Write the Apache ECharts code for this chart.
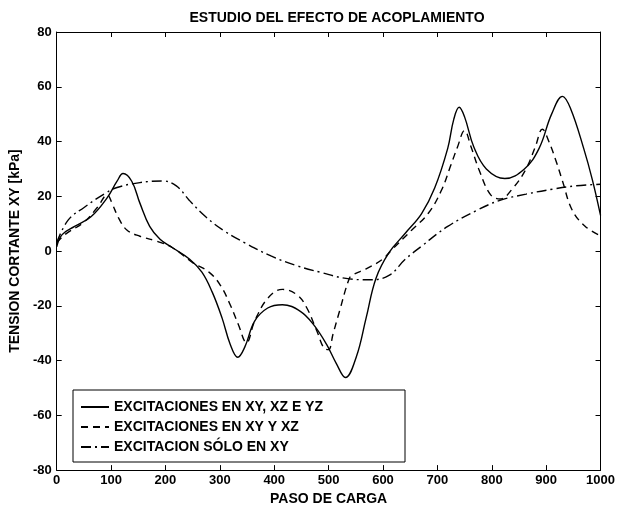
<!DOCTYPE html>
<html>
<head>
<meta charset="utf-8">
<script src="https://cdn.jsdelivr.net/npm/echarts@6/dist/echarts.min.js"></script>
<style>html,body{margin:0;padding:0;background:#fff}#c{width:618px;height:511px}</style>
</head>
<body>
<div id="c"></div>
<script>
var titleText = 'ESTUDIO DEL EFECTO DE ACOPLAMIENTO';
var xName = 'PASO DE CARGA';
var yName = 'TENSION CORTANTE XY [kPa]';
var seriesNames = ['EXCITACIONES EN XY, XZ E YZ', 'EXCITACIONES EN XY Y XZ', 'EXCITACION SÓLO EN XY'];

var xSolid = [0,10,33,63,93,111,122,138,153,171,190,213,244,267,286,304,319,333,346,364,388,415,448,472,496,514,531,551,569,587,611,641,671,695,719,730,740,750,767,790,824,860,887,910,930,945,969,985,1000];
var ySolid = [1.5,6,9,12.5,19.5,25.5,28.3,25.5,17.5,9,4.3,1.2,-2.9,-7.7,-15,-24.4,-34,-38.8,-35,-25.6,-20.8,-19.6,-22,-26.8,-34,-41,-46.2,-38.6,-24.4,-10,-0.6,6.5,13.7,23,37.5,48,52.5,49,38,30,26.5,30,37.5,50,56.5,52,37.5,26,13];

var xDash = [0,15,51,75,93,102,114,129,153,184,213,250,280,301,319,334,349,364,388,415,442,460,478,493,500,508,520,538,545,569,599,617,653,683,707,725,737,750,762,776,797,815,839,863,880,893,905,918,930,948,972,1000];
var yDash = [3,6,10.7,16,20.5,17.3,12,7.7,5.4,3.6,1.2,-4.2,-7.7,-12.5,-19.6,-26.8,-33.5,-25.6,-17.3,-14,-16,-20.8,-29,-35.7,-36,-30.4,-22,-10,-8.6,-6.5,-3,0.6,7.7,13.7,22,31.5,38,44,38,30,20.8,19,23,30,38,44.5,40,33,25.6,14.9,9,5.5];

var xDashDot = [0,21,51,87,111,153,195,220,244,274,310,346,394,442,484,532,575,611,641,671,719,773,815,863,912,954,1000];
var yDashDot = [3,11.3,16,20.8,23.2,25,25.6,23.8,18.5,12.5,7.1,3,-1.8,-5.4,-7.7,-10,-10.5,-8.9,-3,1.8,9,14.9,18.5,20.8,22.6,23.8,24.4];

function pairs(xs, ys) { return xs.map(function (x, i) { return [x, ys[i]]; }); }

var font = 'Liberation Sans, Arial, Helvetica, sans-serif';
var chart = echarts.init(document.getElementById('c'), null, {renderer: 'canvas'});

function axisCommon(showLabel) {
  return {
    axisLine: {show: true, onZero: false, lineStyle: {color: '#000', width: 1}},
    axisTick: {show: true, inside: true, length: 5, lineStyle: {color: '#000'}},
    splitLine: {show: false},
    axisLabel: {show: showLabel, color: '#000', fontSize: 13, fontWeight: 'bold', fontFamily: font,
      formatter: function (v) { return String(v); }}
  };
}

var xBottom = Object.assign(axisCommon(true), {
  type: 'value', min: 0, max: 1000, interval: 100, position: 'bottom',
  name: xName, nameLocation: 'middle', nameGap: 17,
  nameTextStyle: {color: '#000', fontSize: 14, fontWeight: 'bold', fontFamily: font}
});
xBottom.axisLabel.margin = 4;
xBottom.axisLabel.showMaxLabel = true;
var xTop = Object.assign(axisCommon(false), {type: 'value', min: 0, max: 1000, interval: 100, position: 'top'});
var yLeft = Object.assign(axisCommon(true), {
  type: 'value', min: -80, max: 80, interval: 20, position: 'left',
  name: yName, nameLocation: 'middle', nameGap: 30,
  nameTextStyle: {color: '#000', fontSize: 14, fontWeight: 'bold', fontFamily: font}
});
yLeft.axisLabel.margin = 5;
var yRight = Object.assign(axisCommon(false), {type: 'value', min: -80, max: 80, interval: 20, position: 'right'});

var lineW = 1.4;
chart.setOption({
  animation: false,
  backgroundColor: '#fff',
  title: {
    text: titleText, left: 332, textAlign: 'center', top: 6,
    textStyle: {color: '#000', fontSize: 14, fontWeight: 'bold', fontFamily: font}
  },
  grid: {left: 55, right: 9, top: 32, bottom: 34, containLabel: false},
  xAxis: [xBottom, xTop],
  yAxis: [yLeft, yRight],
  legend: {
    orient: 'vertical', left: 73, top: 390,
    padding: [10, 82, 8, 7],
    itemWidth: 28, itemHeight: 14, itemGap: 6,
    borderColor: '#000', borderWidth: 1, backgroundColor: '#fff',
    itemStyle: {color: 'rgba(0,0,0,0)', borderWidth: 0, opacity: 0},
    textStyle: {color: '#000', fontSize: 14, fontWeight: 'bold', fontFamily: font},
    data: seriesNames
  },
  series: [
    {name: seriesNames[0], type: 'line', data: pairs(xSolid, ySolid), smooth: 0.4, symbol: 'none',
     lineStyle: {color: '#000', width: lineW, type: 'solid'}, itemStyle: {color: '#000'}},
    {name: seriesNames[1], type: 'line', data: pairs(xDash, yDash), smooth: 0.4, symbol: 'none',
     lineStyle: {color: '#000', width: lineW, type: [7, 5]}, itemStyle: {color: '#000'}},
    {name: seriesNames[2], type: 'line', data: pairs(xDashDot, yDashDot), smooth: 0.4, symbol: 'none',
     lineStyle: {color: '#000', width: lineW, type: [10, 4, 2, 4]}, itemStyle: {color: '#000'}}
  ]
});
</script>
</body>
</html>
